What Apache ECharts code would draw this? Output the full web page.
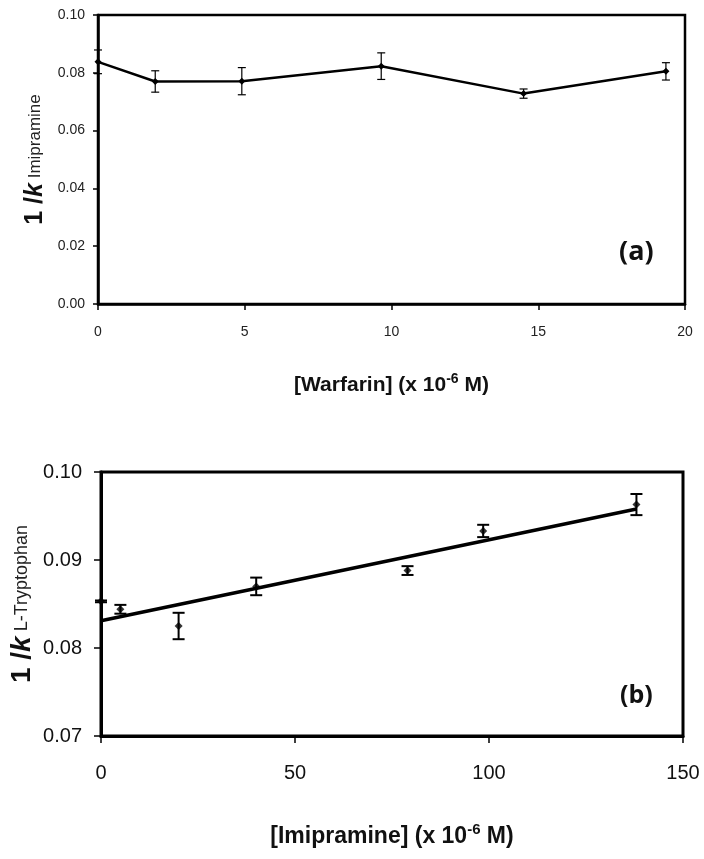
<!DOCTYPE html>
<html><head><meta charset="utf-8">
<script src="https://cdn.jsdelivr.net/npm/echarts@6/dist/echarts.min.js"></script>
<style>html,body{margin:0;padding:0;background:#fff}#c{width:704px;height:859px}</style>
</head><body><div id="c"></div>
<script>
// Panel (a): warfarin
const warfarinX = [0, 1.95, 4.9, 9.65, 14.5, 19.35];
const warfarinY = [0.0838, 0.0770, 0.0771, 0.0823, 0.0728, 0.0805];
const warfarinErr = [0.0041, 0.0037, 0.0047, 0.0046, 0.0016, 0.0030];
const xTicksA = [0, 5, 10, 15, 20];
const yTicksA = [0, 0.02, 0.04, 0.06, 0.08, 0.10];
// Panel (b): imipramine
const imiX = [0, 5, 20, 40, 79, 98.5, 138];
const imiY = [0.0853, 0.0844, 0.0825, 0.0870, 0.0888, 0.0933, 0.0963];
const imiErr = [0.0001, 0.0005, 0.0015, 0.0010, 0.0005, 0.0007, 0.0012];
const trendX = [0, 138];
const trendY = [0.0831, 0.0958];
const xTicksB = [0, 50, 100, 150];
const yTicksB = [0.07, 0.08, 0.09, 0.10];

const NARROW = '"Liberation Sans Narrow","Arial Narrow","Liberation Sans",sans-serif';
const chart = echarts.init(document.getElementById('c'));

function errItem(cap, lw) {
  return function (params, api) {
    const x = api.value(0), y = api.value(1), e = api.value(2);
    const t = api.coord([x, y + e]), b = api.coord([x, y - e]);
    const st = { stroke: '#000', lineWidth: lw };
    return { type: 'group', children: [
      { type: 'line', shape: { x1: t[0], y1: t[1], x2: b[0], y2: b[1] }, style: st },
      { type: 'line', shape: { x1: t[0] - cap, y1: t[1], x2: t[0] + cap, y2: t[1] }, style: st },
      { type: 'line', shape: { x1: b[0] - cap, y1: b[1], x2: b[0] + cap, y2: b[1] }, style: st }
    ]};
  };
}

const axLine = w => ({ show: true, lineStyle: { color: '#000', width: w } });

chart.setOption({
  animation: false,
  backgroundColor: '#fff',
  grid: [
    { left: 98, top: 15, width: 587, height: 289, show: true, borderColor: '#000', borderWidth: 2.5, outerBoundsMode: 'none', containLabel: false },
    { left: 101, top: 472, width: 582, height: 264, show: true, borderColor: '#000', borderWidth: 3, outerBoundsMode: 'none', containLabel: false }
  ],
  xAxis: [
    { gridIndex: 0, type: 'value', min: xTicksA[0], max: xTicksA[xTicksA.length - 1], interval: 5,
      axisLine: axLine(2.5), axisTick: { show: true, length: 6, lineStyle: { color: '#000', width: 1.5 } },
      splitLine: { show: false },
      axisLabel: { margin: 21, fontFamily: NARROW, fontSize: 14, color: '#222' },
      name: '[Warfarin] (x 10{s|-6} M)', nameLocation: 'middle', nameGap: 68, nameMoveOverlap: false,
      nameTextStyle: { fontFamily: NARROW, fontSize: 21, fontWeight: 'bold', color: '#111',
        rich: { s: { fontFamily: NARROW, fontSize: 14, fontWeight: 'bold', color: '#111', verticalAlign: 'top', padding: [0, 0, 12, 0] } } } },
    { gridIndex: 1, type: 'value', min: xTicksB[0], max: xTicksB[xTicksB.length - 1], interval: 50,
      axisLine: axLine(3), axisTick: { show: true, length: 7, lineStyle: { color: '#000', width: 1.5 } },
      splitLine: { show: false },
      axisLabel: { margin: 27, fontFamily: NARROW, fontSize: 20, color: '#111' },
      name: '[Imipramine] (x 10{s|-6} M)', nameLocation: 'middle', nameGap: 86, nameMoveOverlap: false,
      nameTextStyle: { fontFamily: NARROW, fontSize: 23, fontWeight: 'bold', color: '#111',
        rich: { s: { fontFamily: NARROW, fontSize: 15, fontWeight: 'bold', color: '#111', verticalAlign: 'top', padding: [0, 0, 14, 0] } } } }
  ],
  yAxis: [
    { gridIndex: 0, type: 'value', min: 0, max: 0.10, interval: 0.02,
      axisLine: axLine(2.5), axisTick: { show: true, length: 5, lineStyle: { color: '#000', width: 1.5 } },
      splitLine: { show: false },
      axisLabel: { margin: 13, fontFamily: NARROW, fontSize: 14, color: '#222', formatter: v => v.toFixed(2) },
      name: '{b|1 /}{k|k}{s| Imipramine}', nameLocation: 'middle', nameGap: 50, nameRotate: 90, nameMoveOverlap: false,
      nameTextStyle: { rich: {
        b: { fontFamily: NARROW, fontSize: 25, fontWeight: 'bold', color: '#111' },
        k: { fontFamily: NARROW, fontSize: 25, fontWeight: 'bold', fontStyle: 'italic', color: '#111' },
        s: { fontFamily: NARROW, fontSize: 17, color: '#222' } } } },
    { gridIndex: 1, type: 'value', min: 0.07, max: 0.10, interval: 0.01,
      axisLine: axLine(3), axisTick: { show: true, length: 7, lineStyle: { color: '#000', width: 1.5 } },
      splitLine: { show: false },
      axisLabel: { margin: 19, fontFamily: NARROW, fontSize: 20, color: '#111', formatter: v => v.toFixed(2) },
      name: '{b|1 /}{k|k}{s| L-Tryptophan}', nameLocation: 'middle', nameGap: 65, nameRotate: 90, nameMoveOverlap: false,
      nameTextStyle: { rich: {
        b: { fontFamily: NARROW, fontSize: 28, fontWeight: 'bold', color: '#111' },
        k: { fontFamily: NARROW, fontSize: 28, fontWeight: 'bold', fontStyle: 'italic', color: '#111' },
        s: { fontFamily: NARROW, fontSize: 18, color: '#222' } } } }
  ],
  series: [
    { type: 'custom', xAxisIndex: 0, yAxisIndex: 0, renderItem: errItem(4, 1.2),
      data: warfarinX.map((x, i) => [x, warfarinY[i], warfarinErr[i]]), z: 3 },
    { type: 'line', xAxisIndex: 0, yAxisIndex: 0, data: warfarinX.map((x, i) => [x, warfarinY[i]]),
      symbol: 'diamond', symbolSize: 7, itemStyle: { color: '#000' }, lineStyle: { color: '#000', width: 2.5 }, z: 4 },
    { type: 'line', xAxisIndex: 1, yAxisIndex: 1, data: trendX.map((x, i) => [x, trendY[i]]),
      symbol: 'none', lineStyle: { color: '#000', width: 3.5 }, z: 2 },
    { type: 'custom', xAxisIndex: 1, yAxisIndex: 1, renderItem: errItem(6, 2),
      data: imiX.map((x, i) => [x, imiY[i], imiErr[i]]), z: 3 },
    { type: 'scatter', xAxisIndex: 1, yAxisIndex: 1, data: imiX.map((x, i) => [x, imiY[i]]),
      symbol: 'diamond', symbolSize: 8, itemStyle: { color: '#000' }, z: 4 }
  ],
  graphic: [
    { type: 'text', left: 619, top: 239, style: { text: '(a)', font: 'bold 27px "Open Sans", sans-serif', fill: '#111' } },
    { type: 'text', left: 620, top: 683, style: { text: '(b)', font: 'bold 25px "Open Sans", sans-serif', fill: '#111' } }
  ]
});
</script></body></html>
